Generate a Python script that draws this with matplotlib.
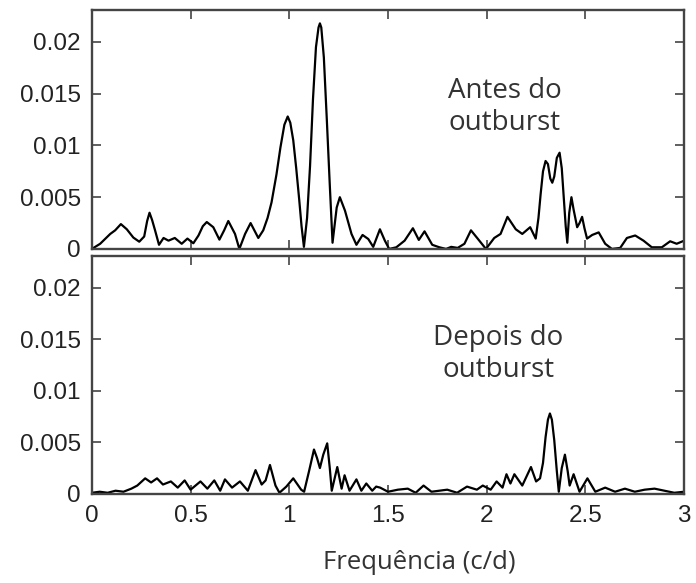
import matplotlib
matplotlib.use('Agg')
import matplotlib.pyplot as plt
import numpy as np

# espectro antes do outburst (frequencia c/d, potencia)
freq_antes = [0.0, 0.042, 0.093, 0.118, 0.147, 0.177, 0.21, 0.24, 0.265, 0.28, 0.292, 0.305,
              0.32, 0.34, 0.363, 0.388, 0.42, 0.455, 0.484, 0.514, 0.54, 0.562, 0.582, 0.615,
              0.646, 0.67, 0.691, 0.725, 0.747, 0.776, 0.804, 0.843, 0.868, 0.89, 0.91, 0.935,
              0.955, 0.975, 0.992, 1.005, 1.02, 1.035, 1.05, 1.062, 1.074, 1.09, 1.105,
              1.12, 1.135, 1.148, 1.155, 1.162, 1.175, 1.19, 1.205, 1.219, 1.24, 1.256,
              1.282, 1.315, 1.34, 1.371, 1.40, 1.425, 1.459, 1.484, 1.506, 1.542, 1.584,
              1.626, 1.656, 1.685, 1.724, 1.76, 1.794, 1.82, 1.853, 1.887, 1.92, 1.954,
              1.996, 2.038, 2.07, 2.105, 2.147, 2.18, 2.22, 2.248, 2.262, 2.273, 2.285,
              2.298, 2.31, 2.322, 2.332, 2.342, 2.355, 2.369, 2.38, 2.39, 2.40, 2.408,
              2.418, 2.429, 2.44, 2.458, 2.47, 2.483, 2.495, 2.508, 2.534, 2.567, 2.60,
              2.634, 2.676, 2.71, 2.752, 2.794, 2.836, 2.887, 2.929, 2.962, 3.0]
pot_antes = [0.0, 0.0005, 0.00145, 0.0018, 0.0024, 0.0019, 0.0011, 0.0007, 0.0012, 0.0027,
             0.0035, 0.0028, 0.0018, 0.0004, 0.00106, 0.0008, 0.00106, 0.0005, 0.001,
             0.00055, 0.0013, 0.0022, 0.0026, 0.0021, 0.0009, 0.0018, 0.0027, 0.00145,
             0.0, 0.00145, 0.0025, 0.00106, 0.0018, 0.003, 0.0045, 0.0072, 0.0098, 0.012,
             0.0128, 0.0122, 0.0105, 0.0078, 0.0048, 0.0022, 0.0002, 0.003, 0.008, 0.0145,
             0.0195, 0.0214, 0.0218, 0.0214, 0.0185, 0.0125, 0.0062, 0.0006, 0.004, 0.005,
             0.0037, 0.00145, 0.0004, 0.00135, 0.00096, 0.0002, 0.0019, 0.0008, 0.0,
             0.00016, 0.0008, 0.002, 0.00087, 0.0017, 0.0004, 0.00016, 0.0, 0.0002, 0.0001,
             0.0005, 0.0018, 0.001, 0.0, 0.00106, 0.00145, 0.0031, 0.0019, 0.00145, 0.0021,
             0.001, 0.003, 0.0053, 0.0075, 0.0085, 0.0082, 0.0068, 0.0064, 0.007, 0.0088,
             0.0093, 0.0078, 0.005, 0.0022, 0.0006, 0.0035, 0.005, 0.0038, 0.0021, 0.0025,
             0.0031, 0.002, 0.001, 0.00135, 0.0016, 0.0005, 0.0, 0.0001, 0.00106, 0.0013,
             0.0008, 0.00016, 0.00016, 0.00074, 0.0005, 0.0008]

# espectro depois do outburst
freq_depois = [0.0, 0.04, 0.08, 0.12, 0.16, 0.2, 0.23, 0.27, 0.3, 0.33, 0.36, 0.4, 0.435,
               0.47, 0.5, 0.55, 0.585, 0.62, 0.65, 0.674, 0.71, 0.75, 0.79, 0.829, 0.86,
               0.88, 0.902, 0.93, 0.95, 0.985, 1.02, 1.06, 1.075, 1.1, 1.125, 1.14, 1.155,
               1.172, 1.192, 1.205, 1.215, 1.243, 1.265, 1.28, 1.305, 1.34, 1.365, 1.39,
               1.42, 1.44, 1.46, 1.5, 1.55, 1.6, 1.64, 1.68, 1.72, 1.76, 1.8, 1.85, 1.9,
               1.95, 1.98, 2.02, 2.05, 2.08, 2.10, 2.12, 2.14, 2.18, 2.224, 2.25, 2.27,
               2.285, 2.298, 2.31, 2.32, 2.33, 2.342, 2.355, 2.365, 2.38, 2.396, 2.41, 2.42,
               2.44, 2.47, 2.51, 2.55, 2.6, 2.65, 2.7, 2.75, 2.8, 2.85, 2.9, 2.95, 3.0]
pot_depois = [0.0001, 0.0002, 0.0001, 0.0003, 0.0002, 0.0005, 0.0008, 0.0015, 0.0011,
              0.0015, 0.0009, 0.0012, 0.0006, 0.0013, 0.0004, 0.0012, 0.0005, 0.0013,
              0.0003, 0.0014, 0.0006, 0.0012, 0.0003, 0.0023, 0.0009, 0.0013, 0.0028,
              0.0008, 0.0001, 0.0007, 0.0015, 0.0004, 0.0002, 0.0022, 0.0043, 0.0035,
              0.0025, 0.0038, 0.0049, 0.0025, 0.0003, 0.0026, 0.0005, 0.0018, 0.0003,
              0.0014, 0.0003, 0.001, 0.0003, 0.0007, 0.0006, 0.0002, 0.0004, 0.0005,
              0.0001, 0.0008, 0.0002, 0.0003, 0.0004, 0.0001, 0.0007, 0.0004, 0.0008,
              0.0004, 0.0012, 0.0006, 0.0019, 0.001, 0.0019, 0.0008, 0.0026, 0.0012,
              0.0015, 0.003, 0.0055, 0.0072, 0.0078, 0.0072, 0.0052, 0.0022, 0.0002,
              0.0025, 0.0038, 0.0022, 0.0008, 0.0019, 0.0002, 0.0015, 0.0002, 0.0006,
              0.0002, 0.0005, 0.0002, 0.0004, 0.0005, 0.0003, 0.0001, 0.0002]

yticks = [0, 0.005, 0.01, 0.015, 0.02]
ytick_labels = ['0', '0.005', '0.01', '0.015', '0.02']
xticks = [0, 0.5, 1, 1.5, 2, 2.5, 3]
xtick_labels = ['0', '0.5', '1', '1.5', '2', '2.5', '3']

fig = plt.figure(figsize=(6.96, 5.83), dpi=100)
ax1 = fig.add_axes([0.132, 0.573, 0.851, 0.410])
ax2 = fig.add_axes([0.132, 0.153, 0.851, 0.408])

frame_col = '#444444'
for ax in (ax1, ax2):
    ax.set_xlim(0, 3)
    ax.set_ylim(0, 0.0231)
    ax.set_xticks(xticks)
    ax.set_yticks(yticks)
    ax.set_yticklabels(ytick_labels, family='Liberation Sans', fontsize=17.5, color='#222222')
    ax.tick_params(direction='in', length=6.5, width=1.2, color=frame_col,
                   top=True, right=True, pad=8)
    for s in ax.spines.values():
        s.set_linewidth(1.7)
        s.set_color(frame_col)

ax1.plot(freq_antes, pot_antes, color='black', lw=1.6, solid_joinstyle='round')
ax2.plot(freq_depois, pot_depois, color='black', lw=1.6, solid_joinstyle='round')

ax1.set_xticklabels([])
ax2.set_xticklabels(xtick_labels, family='Liberation Sans', fontsize=17.5, color='#222222')

ax1.text(2.09, 0.0137, 'Antes do\noutburst', family='Open Sans', fontsize=20,
         color='#333333', ha='center', va='center', linespacing=1.2)
ax2.text(2.06, 0.0136, 'Depois do\noutburst', family='Open Sans', fontsize=20,
         color='#333333', ha='center', va='center', linespacing=1.2)

fig.text(0.602, 0.036, 'Frequência (c/d)', family='Open Sans', fontsize=18.5,
         color='#333333', ha='center', va='center')

fig.savefig('out.png', dpi=100)
